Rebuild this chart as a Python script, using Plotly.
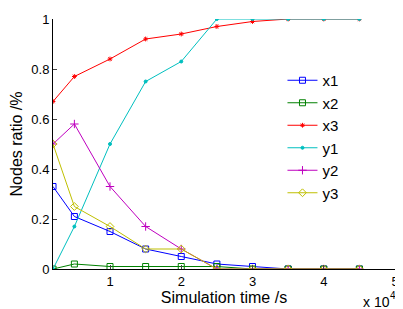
import plotly.graph_objects as go

time_s = [2000, 5000, 10000, 15000, 20000, 25000, 30000, 35000, 40000, 45000]
x1 = [0.33, 0.21, 0.15, 0.08, 0.05, 0.02, 0.01, 0, 0, 0]
x2 = [0.0, 0.02, 0.01, 0.01, 0.01, 0.01, 0, 0, 0, 0]
x3 = [0.67, 0.77, 0.84, 0.92, 0.94, 0.97, 0.99, 1.0, 1.0, 1.0]
y1 = [0.0, 0.17, 0.50, 0.75, 0.83, 1.0, 1.0, 1.0, 1.0, 1.0]
y2 = [0.50, 0.58, 0.33, 0.17, 0.08, 0.0, 0, 0, 0, 0]
y3 = [0.50, 0.25, 0.17, 0.08, 0.08, 0.0, 0, 0, 0, 0]
x_tick_vals = [10000, 20000, 30000, 40000, 50000]
x_tick_text = ["1", "2", "3", "4", "5"]

series = [
    ("x1", x1, "#0000FF", "square-open", 6),
    ("x2", x2, "#008000", "square-open", 6),
    ("x3", x3, "#FF0000", "asterisk-open", 4),
    ("y1", y1, "#00BFBF", "circle", 3),
    ("y2", y2, "#BF00BF", "cross-thin-open", 6),
    ("y3", y3, "#BFBF00", "diamond-open", 6),
]

fig = go.Figure()
for name, vals, color, sym, size in series:
    fig.add_trace(go.Scatter(
        x=time_s, y=vals, name=name, mode="lines+markers",
        line=dict(color=color, width=1),
        marker=dict(symbol=sym, size=size, color=color, line=dict(color=color, width=1)),
    ))

font = "Liberation Sans, Arial, sans-serif"
fig.update_layout(
    width=395, height=301,
    margin=dict(l=45, r=4, t=10, b=40),
    paper_bgcolor="white", plot_bgcolor="white",
    font=dict(family=font, size=13, color="black"),
    showlegend=True,
    legend=dict(x=0.671, y=0.82, xanchor="left", yanchor="top",
                bgcolor="rgba(0,0,0,0)", font=dict(size=15), itemwidth=30),
    xaxis=dict(range=[2000, 50000], tickvals=x_tick_vals, ticktext=x_tick_text,
               ticks="inside", ticklen=4, showgrid=False, zeroline=False,
               showline=True, linecolor="black", linewidth=1,
               ticklabeloverflow="allow",
               title=dict(text="Simulation time /s", standoff=4)),
    yaxis=dict(range=[0, 1], tickvals=[0, 0.2, 0.4, 0.6, 0.8, 1],
               ticktext=["0", "0.2", "0.4", "0.6", "0.8", "1"],
               ticks="inside", ticklen=4, showgrid=False, zeroline=False,
               showline=True, linecolor="black", linewidth=1,
               title=dict(text="Nodes ratio /%", standoff=6)),
)
fig.add_annotation(text="x 10", xref="paper", yref="paper",
                   x=0.990, y=-0.131, xanchor="right", yanchor="middle",
                   showarrow=False, font=dict(size=14))
fig.add_annotation(text="4", xref="paper", yref="paper",
                   x=0.979, y=-0.106, xanchor="left", yanchor="middle",
                   showarrow=False, font=dict(size=10))
fig.write_html("out.html")
